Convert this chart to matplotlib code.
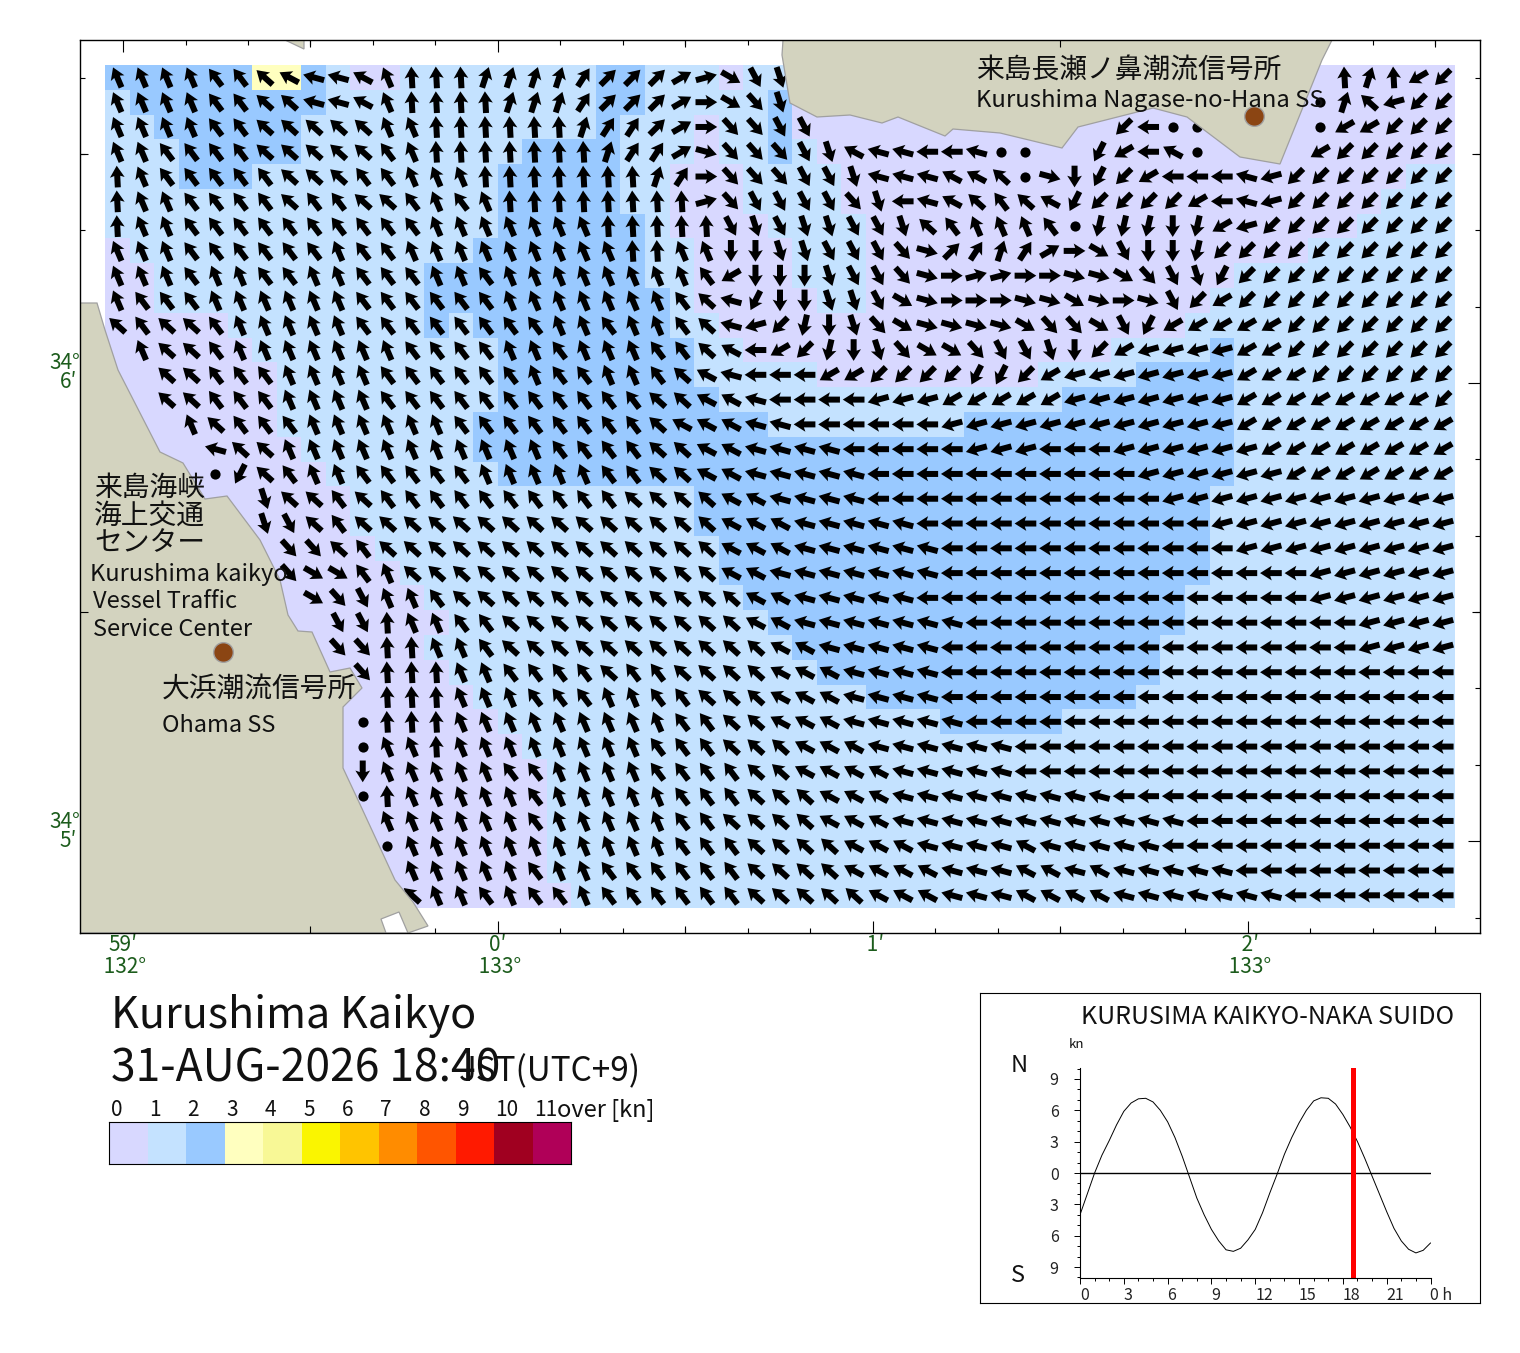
import numpy as np
import matplotlib
matplotlib.use("Agg")
import matplotlib.pyplot as plt
from matplotlib.colors import ListedColormap, BoundaryNorm
from matplotlib.patches import Polygon

plt.rcParams['font.family'] = ['Noto Sans CJK JP', 'DejaVu Sans']

W, H = 1520, 1353

# speed class per row: "class:last column" runs
speed_runs = [
 "2:5 3:7 2:8 1:9 0:11 1:19 2:21 1:24 0:25 1:27 0:54",
 "1:0 2:8 1:19 2:21 1:26 2:27 0:54",
 "1:1 2:7 1:19 2:20 1:23 0:24 1:26 2:27 0:54",
 "1:2 2:7 1:16 2:20 1:23 0:24 1:26 2:27 1:28 0:54",
 "1:2 2:5 1:15 2:20 1:22 0:25 1:29 0:52 1:54",
 "1:15 2:20 1:22 0:25 1:29 0:51 1:54",
 "1:15 2:21 1:22 0:26 1:30 0:50 1:54",
 "0:0 1:14 2:21 1:23 0:27 1:30 0:48 1:54",
 "0:1 1:12 2:21 1:23 0:27 1:30 0:45 1:54",
 "0:1 1:12 2:22 1:23 0:28 1:30 0:44 1:54",
 "0:4 1:12 2:13 1:14 2:22 1:24 0:43 1:54",
 "0:5 1:15 2:23 1:25 0:40 1:44 2:45 1:54",
 "0:6 1:15 2:23 1:28 0:37 1:41 2:45 1:54",
 "0:6 1:15 2:24 1:38 2:45 1:54",
 "0:6 1:14 2:26 1:34 2:45 1:54",
 "0:7 1:14 2:45 1:54",
 "0:8 1:15 2:45 1:54",
 "0:9 1:23 2:44 1:54",
 "0:9 1:23 2:44 1:54",
 "0:10 1:24 2:44 1:54",
 "0:11 1:24 2:44 1:54",
 "0:12 1:25 2:43 1:54",
 "0:13 1:26 2:43 1:54",
 "0:12 1:27 2:42 1:54",
 "0:13 1:28 2:42 1:54",
 "0:14 1:30 2:41 1:54",
 "0:15 1:33 2:38 1:54",
 "0:16 1:54",
 "0:17 1:54",
 "0:17 1:54",
 "0:17 1:54",
 "0:17 1:54",
 "0:17 1:54",
 "0:18 1:54",
]

# flow direction per cell, as codes of the table below; * calm; . none
dir_rows = [
 "xxxxw wvutt uxaaa bbbbc dddef ikl.. ..... ..... ..... ..... abaqp",
 "xxxxw wvvtt uxaaa abbbc dddeg ijl.. ..... ..... ..... ....* bvrpp",
 "xxxxw wvvvv vxxaa aaaab ccdeg jjkk. ..... ..... .ps** ....* qqppp",
 "xxwww wvvvv vwxaa aaaaa bcceh jjjkl uttss t**.. oqsu* ....q ppppp",
 "axwww wwvvv wwxxx aaaaa aabcg jjjkk ltttu uv*hm opqss strpp ppppp",
 "axxww wwvww vvwxw xaaaa aaaaf jkkkk jlstu vwvuo ppppq strpp ppppp",
 "axxww wwwww wwwxx xxxxx aaaaa klkll kklvw xxxw* nnnmn qrppp ppppp",
 "xxxww wwwwx wwxxx xxxxx xaaxx mmllk kkjhd cbceg ikmmn ppppp ppppp",
 "xxxwx xwwxx wwwxx wxxxx xxxxw qmmml kkjhg ffggh hijkl opppp ppppp",
 "xwwwx xxxxx wwwww wxxxx xxxwv tomml lkihg gghhi hghkp qpppp ppppp",
 "vwvvw xxxxx wwwww wwwxx wxxwv trpnm ljihh hhijj ikoqq qqqpp ppppp",
 ".xvvw xxxxx xxwww wxxwx xxwwv usqpn mljii jkklm pqrrr rqqpp ppppp",
 "..vvw wwxxx xwwww wwxww xxwvu tsssq qpppp oopqr rrrrr rqqqp ppppp",
 "..vvw wwxxx xwwww wwwww wwvvu utsss srrrq qqqqr rrrrr rqqqq qqqqp",
 "...xv wwwxx xxxxw wwwww wwvuu uttss ssssr rrrrr rrrrr rqqqq qqqqq",
 "....t vvxxx xxxxx xxxww wwvvu utttt sssss rrrss srrrr rrqqq qqqqq",
 "....* ovwxx wwwww xxxxx wwvvu utttt tssss sssss ssrrr rrrqq qqqqq",
 "..... .lvvw vwwww wwwww wvvvv uuttt tssss sssss sssrr rrrrr rrrrr",
 "..... .lkvw vvvvv vvvvv vvvvv uuutt tttss sssss sssss rrrrr rrrrr",
 "..... ..jjv wvvvv vvvvv vvvvv uuutt tttts sssss sssss srrrr rrrrr",
 "..... ..jii wxvvv vvvvv vvvvv uuttt tttts sssss sssss ssssr rrrrr",
 "..... ...ij kxxwv vvvvv vvvvv vuutt tttss sssss sssss ssssr rrrrr",
 "..... ....k kaxxw wvvvv vvvvv vuutt ttttt sssss sssss sssss srrrr",
 "..... ....j jaaxx wvvvv vvvvv vvuut tttts sssss sssss sssss srrrr",
 "..... ..... jaaax xwwww vwwvv vvuuu tttts sssss sssss sssss sssss",
 "..... ..... .aaax xxwww xxwwv vvuuu tttts sssss sssss sssss sssss",
 "..... ..... *aaax xxxxx xxxww vvuuu ttttt sssss sssss sssss sssss",
 "..... ..... *xxax xxxxx xxwww vvvuu utttt ttsss sssss sssss sssss",
 "..... ..... mxxxx xwwxx xxwww wvvuu uuttt ttsss sssss sssss sssss",
 "..... ..... *axxx xxwxx xxxww wvvvu uuttt ttttt tssss sssss sssss",
 "..... ..... .xxxx xxwxx xxxww vvvvu uuttt ttttt tttts sssss sssss",
 "..... ..... .*xxx xxxxx xxxww wvvvv uuutt ttutt tttss sssss sssss",
 "..... ..... ..xxx xxwxx wwwww wvvvv uuuut ttuut utttt tssss sssss",
 "..... ..... ..vxx wxwwx wwwww wvvvv vuuut ttuuu utttt tttss sssss",
]
# bearing in degrees clockwise from north, as measured on the reference arrows
code_bearing = {'a': 357, 'b': 18, 'c': 33, 'd': 45, 'e': 60, 'f': 75, 'g': 90, 'h': 105,
                'i': 120, 'j': 138, 'k': 152, 'l': 162, 'm': 180, 'n': 193, 'o': 207, 'p': 225,
                'q': 240, 'r': 255, 's': 270, 't': 285, 'u': 298, 'v': 312, 'w': 323, 'x': 337}

level_colors = ['#D8D8FF', '#C4E2FF', '#99C9FF', '#FFFFBF', '#F8F896', '#FAF500',
                '#FFC400', '#FF8C00', '#FF5500', '#FF1A00', '#A00020', '#B00058']
level_labels = ['0', '1', '2', '3', '4', '5', '6', '7', '8', '9', '10', '11']

hours = [0, .5, 1, 1.5, 2, 2.5, 3, 3.5, 4, 4.5, 5, 5.5, 6, 6.5, 7, 7.5, 8, 8.5, 9, 9.5, 10, 10.5,
         11, 11.5, 12, 12.5, 13, 13.5, 14, 14.5, 15, 15.5, 16, 16.5, 17, 17.5, 18, 18.5, 19, 19.5,
         20, 20.5, 21, 21.5, 22, 22.5, 23, 23.5, 24]
tide_kn = [-4.0, -2.0, 0.0, 1.7, 3.1, 4.6, 5.9, 6.7, 7.1, 7.15, 6.8, 6.0, 4.9, 3.4, 1.6, -0.4, -2.4,
           -4.0, -5.4, -6.5, -7.35, -7.5, -7.2, -6.4, -5.4, -3.8, -1.9, -0.1, 1.8, 3.4, 4.8, 6.0,
           6.9, 7.2, 7.15, 6.6, 5.6, 4.4, 3.0, 1.4, -0.3, -2.0, -3.7, -5.3, -6.5, -7.3, -7.65,
           -7.4, -6.7]
now_hour = 18 + 40 / 60

land_west = [(80, 303), (97, 303), (105, 330), (118, 370), (160, 452), (183, 463), (205, 499),
             (227, 496), (260, 540), (280, 580), (288, 615), (298, 631), (312, 632), (330, 672),
             (350, 668), (362, 688), (343, 707), (343, 768), (358, 800), (395, 880), (413, 902),
             (428, 926), (408, 933), (80, 933)]
land_notch = [(381, 919), (399, 912), (408, 933), (386, 933)]
land_north = [(783, 40), (782, 55), (790, 103), (817, 117), (850, 115), (882, 123), (898, 117),
              (945, 136), (953, 129), (1000, 133), (1062, 148), (1078, 127), (1153, 108),
              (1187, 117), (1240, 157), (1280, 164), (1322, 60), (1332, 40)]
land_islet = [(285, 40), (304, 49), (304, 40)]
stations = [(1254, 116), (223, 652)]

LAND = '#D3D3BF'
GREEN = '#1C5C1C'
TXT = '#111111'


def frame(x0, y0, x1, y1):
    return [x0 / W, 1 - y1 / H, (x1 - x0) / W, (y1 - y0) / H]


def ftext(x, y, s, size, **kw):
    kw.setdefault('va', 'center')
    kw.setdefault('color', TXT)
    fig.text(x / W, 1 - y / H, s, fontsize=size, **kw)


fig = plt.figure(figsize=(W / 100, H / 100), dpi=100, facecolor='white')

# ---- current map
ax = fig.add_axes(frame(80, 40, 1480, 933))
ax.set_xlim(80, 1480)
ax.set_ylim(933, 40)

n_rows, n_cols = len(dir_rows), 55
x_edges = np.linspace(105, 1455, n_cols + 1)
y_edges = np.linspace(65, 907.7, n_rows + 1)

speed = np.zeros((n_rows, n_cols))
for r, runs in enumerate(speed_runs):
    start = 0
    for run in runs.split():
        cls, last = run.split(':')
        speed[r, start:int(last) + 1] = int(cls)
        start = int(last) + 1

cmap = ListedColormap(level_colors)
norm = BoundaryNorm(np.arange(13) - 0.5, 12)
ax.pcolormesh(x_edges, y_edges, speed, cmap=cmap, norm=norm, zorder=1)

xc = (x_edges[:-1] + x_edges[1:]) / 2
yc = (y_edges[:-1] + y_edges[1:]) / 2
ax_x, ax_y, ax_u, ax_v, dot_x, dot_y = [], [], [], [], [], []
for r, row in enumerate(dir_rows):
    codes = row.replace(' ', '')
    assert len(codes) == n_cols, (r, len(codes))
    for c, code in enumerate(codes):
        if code == '*':
            dot_x.append(xc[c]); dot_y.append(yc[r])
        elif code != '.':
            th = np.deg2rad(code_bearing[code])
            ax_x.append(xc[c]); ax_y.append(yc[r])
            ax_u.append(np.sin(th) * 21.7); ax_v.append(np.cos(th) * 21.7)

ax.quiver(ax_x, ax_y, ax_u, ax_v, angles='uv', units='dots', scale_units='dots', scale=1,
          width=6, headwidth=2.45, headlength=1.95, headaxislength=1.7, pivot='mid',
          color='black', zorder=2)
ax.scatter(dot_x, dot_y, s=54, color='black', linewidths=0, zorder=2)

for poly in (land_west, land_north, land_islet):
    ax.add_patch(Polygon(poly, closed=True, facecolor=LAND, edgecolor='#A0A0A0', lw=0.9, zorder=3))
ax.add_patch(Polygon(land_notch, closed=True, facecolor='white', edgecolor='#A0A0A0', lw=0.9, zorder=3))
ax.scatter(*zip(*stations), s=200, color='#8B4513', edgecolors='#A0A0A0', linewidths=1, zorder=4)

# ticks
x_major = [123, 498, 873, 1248]
x_half = [310.5, 685.5, 1060.5, 1435.5]
x_minor = [185.5, 248, 373, 435.5, 560.5, 623, 748, 810.5, 935.5, 998, 1123, 1185.5, 1310.5, 1373]
y_major = [383, 841]
y_half = [154, 612]
y_minor = [78, 230, 307, 459, 536, 688, 765, 918]
ax.set_xticks(x_major, ['59′\n 132°', '0′\n 133°', ' 1′', ' 2′\n 133°'], color=GREEN, fontsize=15,
              linespacing=0.98)
ax.set_yticks(y_major, ['', ''])
ax.set_xticks(x_minor + x_half, minor=True)
ax.set_yticks(y_minor + y_half, minor=True)
ax.tick_params(which='major', direction='in', length=8.6, width=0.8, top=True, right=True, pad=1)
ax.tick_params(which='minor', direction='in', length=3.6, width=0.8, top=True, right=True)
for v in x_half:
    ax.vlines(v, 933, 926, color='black', lw=0.8, zorder=6)
    ax.vlines(v, 40, 47, color='black', lw=0.8, zorder=6)
for v in y_half:
    ax.hlines(v, 80, 88, color='black', lw=0.8, zorder=6)
    ax.hlines(v, 1480, 1472, color='black', lw=0.8, zorder=6)
for sp in ax.spines.values():
    sp.set_linewidth(1)
    sp.set_zorder(7)

for y, deg, mn in [(363, '34°', '6′'), (822, '34°', '5′')]:
    ftext(80, y, deg, 15, ha='right', color=GREEN)
    ftext(77, y + 19, mn, 15, ha='right', color=GREEN)

# place names
for x, y, s, size in [
    (976, 71, '来島長瀬ノ鼻潮流信号所', 20),
    (976, 100, 'Kurushima Nagase-no-Hana SS', 17.2),
    (94, 488, '来島海峡', 20),
    (94, 516, '海上交通', 20),
    (94, 543, 'センター', 20),
    (90, 574, 'Kurushima kaikyo', 17),
    (93, 601, 'Vessel Traffic', 17),
    (93, 629, 'Service Center', 17),
    (162, 689, '大浜潮流信号所', 20),
    (162, 725, 'Ohama SS', 17),
]:
    ax.text(x, y, s, fontsize=size, color=TXT, va='center', ha='left', zorder=5, clip_on=False)

# ---- headings
ftext(111, 1016, 'Kurushima Kaikyo', 31)
ftext(111, 1068, '31-AUG-2026 18:40', 32)
ftext(459, 1072, 'JST(UTC+9)', 24)

# ---- colour scale
cb = fig.add_axes(frame(109, 1122, 571, 1164))
cb.pcolormesh(np.arange(13), [0, 1], np.arange(12).reshape(1, -1), cmap=cmap, norm=norm)
cb.set_xticks(np.arange(12) + 0.04, level_labels, fontsize=15, color=TXT, ha='left')
cb.set_yticks([])
cb.xaxis.tick_top()
cb.tick_params(axis='x', length=0, pad=1)
ftext(557, 1110, 'over [kn]', 17)

# ---- tide panel
box = fig.add_axes(frame(980, 993, 1480, 1303))
box.set_xticks([]); box.set_yticks([])

ti = fig.add_axes(frame(1080, 1068, 1430.5, 1278))
ti.patch.set_alpha(0)
ti.set_xlim(0, 24)
ti.set_ylim(-10.05, 10.05)
ti.spines['top'].set_visible(False)
ti.spines['right'].set_visible(False)
ti.plot(hours, tide_kn, color='black', lw=0.7)
ti.axhline(0, color='black', lw=1)
ti.axvline(now_hour, color='#FF0000', lw=3.6)
ti.set_xticks(np.arange(0, 25, 3), ['0', '3', '6', '9', '12', '15', '18', '21', '0 h'],
              fontsize=11.5, color='#222222', ha='left')
ti.set_xticks(np.arange(0, 25), minor=True)
ti.set_yticks(np.arange(-9, 10, 3), ['9', '6', '3', '0', '3', '6', '9'], fontsize=11.5, color='#222222')
ti.set_yticks(np.arange(-10, 11), minor=True)
ti.tick_params(which='major', length=4.3, width=0.7)
ti.tick_params(which='minor', length=2.2, width=0.7)
ti.tick_params(axis='y', pad=11)
ti.tick_params(axis='x', pad=2)

ftext(1081, 1017, 'KURUSIMA KAIKYO-NAKA SUIDO', 18)
ftext(1069, 1044, 'kn', 9.5)
ftext(1011, 1066, 'N', 17)
ftext(1011, 1276, 'S', 17)

fig.savefig('out.png', dpi=100, facecolor='white')
